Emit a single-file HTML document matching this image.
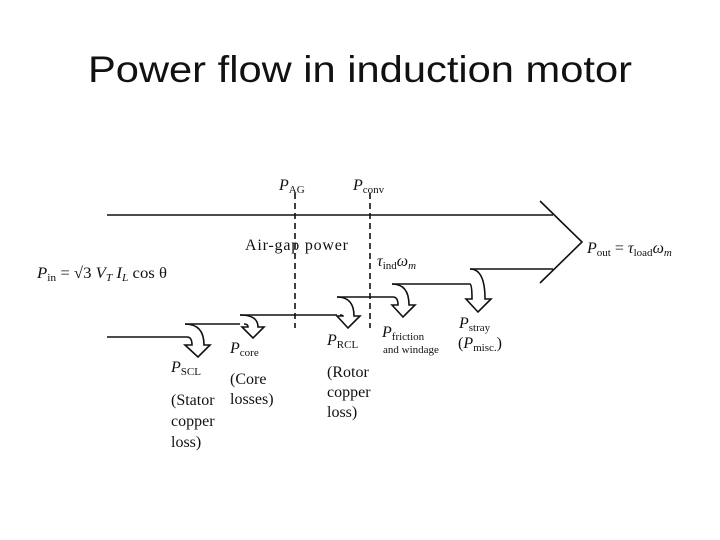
<!DOCTYPE html>
<html><head><meta charset="utf-8"><style>
html,body{margin:0;padding:0;background:#fff;}
svg{display:block}
.t{font-family:"Liberation Serif",serif;font-size:16px;fill:#111}
.i{font-style:italic}
.s{font-size:11px}
</style></head><body>
<svg width="720" height="540" viewBox="0 0 720 540" xmlns="http://www.w3.org/2000/svg">
<text x="88" y="82" font-family="Liberation Sans, sans-serif" font-size="37" fill="#111" textLength="544" lengthAdjust="spacingAndGlyphs">Power flow in induction motor</text>
<g stroke="#111" stroke-width="1.6" fill="none">
<line x1="107" y1="215" x2="553" y2="215"/>
<polyline points="540,201 582,242 540,283"/>
<line x1="470" y1="269" x2="553" y2="269"/>
<line x1="107" y1="337" x2="187" y2="337"/>
<line x1="185" y1="324" x2="240" y2="324"/>
<line x1="240" y1="315" x2="337" y2="315"/>
<line x1="337" y1="297" x2="393" y2="297"/>
<line x1="392" y1="284" x2="470" y2="284"/>
<path d="M185,324 Q204,324 204,345 L210,345 L198,357 L185,345 L192,345 Q192,337 187,337"/>
<path d="M240,315 Q258,315 258,327 L264,327 L253,338 L242,327 L248,327 Q248,324 244,324"/>
<path d="M337,297 Q354,297 354,316 L360,316 L348,328 L337,316 L343,316 Q343,315 340,315"/>
<path d="M392,284 Q409,284 409,305 L415,305 L403,317 L392,305 L398,305 Q398,297 393,297"/>
<path d="M470,269 Q485,269 485,299 L491,299 L478,312 L466,299 L472,299 Q472,284 470,284"/>
</g>
<g stroke="#111" stroke-width="1.6" stroke-dasharray="6,4">
<line x1="295" y1="193" x2="295" y2="328"/>
<line x1="370" y1="193" x2="370" y2="328"/>
</g>
<text class="t i" x="279" y="190">P<tspan class="s" font-style="normal" dy="3">AG</tspan></text>
<text class="t i" x="353" y="190">P<tspan class="s" font-style="normal" dy="3">conv</tspan></text>
<text class="t" x="245" y="250" textLength="103">Air-gap power</text>
<text class="t i" x="37" y="278" textLength="130" lengthAdjust="spacingAndGlyphs">P<tspan class="s" font-style="normal" dy="3">in</tspan><tspan font-style="normal" dy="-3"> = √3 </tspan>V<tspan class="s" dy="3">T</tspan><tspan dy="-3"> I</tspan><tspan class="s" dy="3">L</tspan><tspan font-style="normal" dy="-3"> cos θ</tspan></text>
<text class="t i" x="377" y="266">τ<tspan class="s" font-style="normal" dy="3">ind</tspan><tspan dy="-3">ω</tspan><tspan class="s" dy="3">m</tspan></text>
<text class="t i" x="587" y="253">P<tspan class="s" font-style="normal" dy="3">out</tspan><tspan font-style="normal" dy="-3"> =  </tspan>τ<tspan class="s" font-style="normal" dy="3">load</tspan><tspan dy="-3">ω</tspan><tspan class="s" dy="3">m</tspan></text>
<text class="t i" x="171" y="372">P<tspan class="s" font-style="normal" dy="3">SCL</tspan></text>
<text class="t" x="171" y="405">(Stator</text>
<text class="t" x="171" y="426">copper</text>
<text class="t" x="171" y="447">loss)</text>
<text class="t i" x="230" y="353">P<tspan class="s" font-style="normal" dy="3">core</tspan></text>
<text class="t" x="230" y="384">(Core</text>
<text class="t" x="230" y="404">losses)</text>
<text class="t i" x="327" y="345">P<tspan class="s" font-style="normal" dy="3">RCL</tspan></text>
<text class="t" x="327" y="377">(Rotor</text>
<text class="t" x="327" y="397">copper</text>
<text class="t" x="327" y="417">loss)</text>
<text class="t i" x="382" y="337">P<tspan class="s" font-style="normal" dy="3">friction</tspan></text>
<text class="t s" x="383" y="353">and windage</text>
<text class="t i" x="459" y="328">P<tspan class="s" font-style="normal" dy="3">stray</tspan></text>
<text class="t" x="458" y="348">(<tspan class="i">P</tspan><tspan class="s" dy="3">misc.</tspan><tspan dy="-3">)</tspan></text>
</svg>
</body></html>
